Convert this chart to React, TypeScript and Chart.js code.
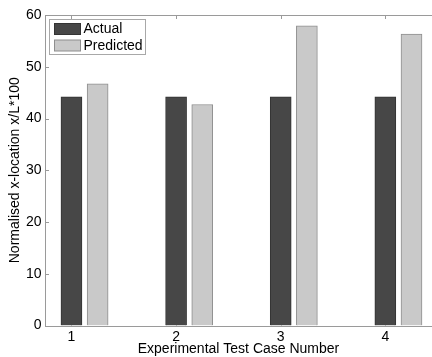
import React, { useEffect, useRef } from 'react';
import { Chart, registerables } from 'chart.js';

Chart.register(...registerables);

// ---- data ----
const categories = [1, 2, 3, 4];
const actualValues = [44.2, 44.2, 44.2, 44.2];
const predictedValues = [46.7, 42.7, 57.9, 56.3];
const yTickValues = [0, 10, 20, 30, 40, 50, 60];
const seriesLabels = ['Actual', 'Predicted'];
const xTitle = 'Experimental Test Case Number';
const yTitle = 'Normalised x-location x/L*100';

// ---- style ----
const PRED_OFFSET = 0.25;
const FONT = "'Liberation Sans', Arial, sans-serif";
const AXIS_COLOR = '#9a9a9a';
const ACTUAL_FILL = '#474747';
const ACTUAL_BORDER = '#333333';
const PRED_FILL = '#c9c9c9';
const PRED_BORDER = '#8e8e8e';

const framePlugin = {
  id: 'frame',
  beforeDatasetsDraw(chart: any) {
    const { ctx, chartArea: ca, scales } = chart;
    ctx.save();
    ctx.strokeStyle = AXIS_COLOR;
    ctx.lineWidth = 1;
    ctx.beginPath();
    scales.y.ticks.forEach((t: any) => {
      const y = Math.round(scales.y.getPixelForValue(t.value)) + 0.5;
      ctx.moveTo(ca.left, y);
      ctx.lineTo(ca.left + 4, y);
    });
    scales.x.ticks.forEach((t: any) => {
      const x = Math.round(scales.x.getPixelForValue(t.value)) + 0.5;
      ctx.moveTo(x, ca.top);
      ctx.lineTo(x, ca.top + 4);
      ctx.moveTo(x, ca.bottom);
      ctx.lineTo(x, ca.bottom - 4);
    });
    ctx.stroke();
    ctx.restore();
  },
  afterDatasetsDraw(chart: any) {
    const { ctx, chartArea: ca } = chart;
    ctx.save();
    ctx.strokeStyle = AXIS_COLOR;
    ctx.lineWidth = 1;
    const top = Math.round(ca.top) + 0.5;
    const left = Math.round(ca.left) + 0.5;
    const bottom = Math.round(ca.bottom) + 0.5;
    ctx.beginPath();
    ctx.moveTo(ca.right + 1, top);
    ctx.lineTo(left, top);
    ctx.lineTo(left, bottom);
    ctx.lineTo(ca.right + 1, bottom);
    ctx.stroke();

    // legend
    const bx = left + 4;
    const by = top + 4;
    const bw = 96;
    const bh = 35;
    ctx.fillStyle = '#ffffff';
    ctx.fillRect(bx, by, bw, bh);
    ctx.strokeStyle = '#a8a8a8';
    ctx.strokeRect(bx, by, bw, bh);
    const ds = chart.data.datasets;
    ctx.font = `14px ${FONT}`;
    ctx.textBaseline = 'middle';
    ctx.textAlign = 'left';
    ds.forEach((d: any, i: number) => {
      const sy = by + 4 + i * 16.5;
      ctx.fillStyle = d.backgroundColor;
      ctx.fillRect(bx + 5, sy, 26, 11);
      ctx.strokeStyle = d.borderColor;
      ctx.strokeRect(bx + 5, sy, 26, 11);
      ctx.fillStyle = '#000000';
      ctx.fillText(d.label, bx + 34, sy + 6);
    });
    ctx.restore();
  },
};

export default function App() {
  const canvasRef = useRef<HTMLCanvasElement | null>(null);

  useEffect(() => {
    const canvas = canvasRef.current;
    if (!canvas) return;
    const chart = new Chart(canvas, {
      type: 'bar',
      data: {
        datasets: [
          {
            label: seriesLabels[0],
            data: categories.map((c, i) => ({ x: c, y: actualValues[i] })),
            backgroundColor: ACTUAL_FILL,
            borderColor: ACTUAL_BORDER,
            borderWidth: 1,
            barThickness: 21,
            grouped: false,
          } as any,
          {
            label: seriesLabels[1],
            data: categories.map((c, i) => ({ x: c + PRED_OFFSET, y: predictedValues[i] })),
            backgroundColor: PRED_FILL,
            borderColor: PRED_BORDER,
            borderWidth: 1,
            barThickness: 21,
            grouped: false,
          } as any,
        ],
      },
      options: {
        responsive: false,
        animation: false,
        layout: { padding: { top: 15, left: 0, right: 0, bottom: 0 } },
        plugins: {
          legend: { display: false },
          tooltip: { enabled: false },
        },
        scales: {
          x: {
            type: 'linear',
            offset: false,
            min: 0.747,
            max: 4.446,
            grid: { display: false, drawTicks: false, offset: false },
            border: { display: false },
            ticks: {
              font: { family: FONT, size: 14 },
              color: '#000000',
              padding: 3,
              maxRotation: 0,
              autoSkip: false,
            },
            afterBuildTicks: (scale: any) => {
              scale.ticks = categories.map((v) => ({ value: v }));
            },
            afterFit: (scale: any) => {
              scale.height = 31.5;
              scale.paddingLeft = 0;
              scale.paddingRight = 0;
            },
            title: {
              display: true,
              text: xTitle,
              font: { family: FONT, size: 14, lineHeight: 1.2 },
              color: '#000000',
              padding: { top: 0, bottom: -1 },
            },
          },
          y: {
            type: 'linear',
            min: 0,
            max: 60,
            grid: { display: false, drawTicks: false },
            border: { display: false },
            ticks: {
              font: { family: FONT, size: 14 },
              color: '#000000',
              padding: 3.5,
            },
            afterBuildTicks: (scale: any) => {
              scale.ticks = yTickValues.map((v) => ({ value: v }));
            },
            afterFit: (scale: any) => {
              scale.width = 45;
            },
            title: {
              display: true,
              text: yTitle,
              font: { family: FONT, size: 14, lineHeight: 1.2 },
              color: '#000000',
              padding: { top: 7, bottom: 0 },
            },
          },
        },
      } as any,
      plugins: [framePlugin],
    });
    return () => chart.destroy();
  }, []);

  return (
    <div style={{ position: 'absolute', left: 0, top: 0, width: 432, height: 357, background: '#ffffff' }}>
      <canvas ref={canvasRef} width={432} height={357} style={{ display: 'block' }} />
    </div>
  );
}
